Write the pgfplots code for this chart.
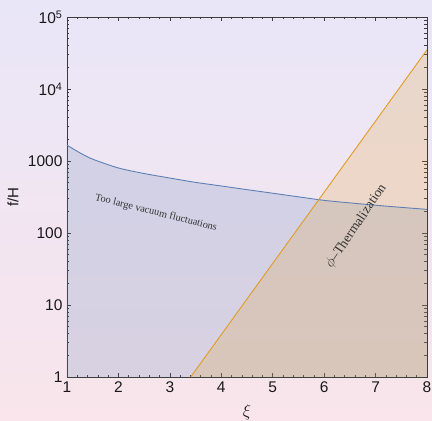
\documentclass[border=0pt]{standalone}
\usepackage{pgfplots}
\pgfplotsset{compat=1.18}
\usepackage{fontspec}
\setmainfont{Liberation Sans}
\newfontfamily\seriffont{Liberation Serif}
\newcommand{\annA}{\seriffont\fontsize{10.3pt}{12pt}\selectfont}
\newcommand{\annB}{\seriffont\fontsize{13.5pt}{15pt}\selectfont}
\definecolor{mblue}{RGB}{94,129,181}
\definecolor{morange}{RGB}{225,156,36}
\definecolor{bgtop}{RGB}{233,230,248}
\definecolor{bgbot}{RGB}{249,229,235}
\definecolor{framec}{RGB}{60,60,60}
\begin{document}
\begin{tikzpicture}[x=1pt,y=1pt]
\shade[top color=bgtop, bottom color=bgbot] (0,0) rectangle (432,421);
\useasboundingbox (0,0) rectangle (432,421);
\begin{axis}[
  at={(67pt,44pt)}, anchor=south west,
  scale only axis, width=360pt, height=360pt,
  xmin=1, xmax=8, ymin=1, ymax=100000,
  ymode=log,
  axis line style={framec, line width=0.8pt},
  xtick={1,2,3,4,5,6,7,8},
  xticklabels={1,2,3,4,5,6,7,8},
  minor x tick num=4,
  ytick={1,10,100,1000,10000,100000},
  yticklabels={1,10,100,1000,10\textsuperscript{4},10\textsuperscript{5}},
  minor ytick={2,3,4,5,6,7,8,9,20,30,40,50,60,70,80,90,200,300,400,500,600,700,800,900,2000,3000,4000,5000,6000,7000,8000,9000,20000,30000,40000,50000,60000,70000,80000,90000},
  xtick pos=both, ytick pos=both,
  xticklabel pos=bottom, yticklabel pos=left,
  tick align=inside,
  major tick length=4.5pt, minor tick length=2.5pt,
  tick style={framec, line width=0.6pt},
  xticklabel style={font=\fontsize{15.5pt}{18pt}\selectfont, text=black!90, yshift=-1pt},
  yticklabel style={font=\fontsize{15.5pt}{18pt}\selectfont, text=black!90, xshift=-1pt},
  xlabel={\fontsize{17pt}{19pt}\selectfont$\xi$},
  ylabel={\fontsize{15pt}{18pt}\selectfont f/H},
  xlabel style={at={(axis description cs:0.5,-0.098)}, anchor=center, text=black!90},
  ylabel style={at={(axis description cs:-0.150,0.5)}, anchor=center, text=black!90},
  clip=true,
]
\addplot[draw=none, fill=mblue, fill opacity=0.2] coordinates {
 (1,1) (1,1660) (1.25,1300) (1.5,1060) (2,800) (2.5,670) (3,580) (3.5,505) (4,450) (4.5,400) (5,357) (5.5,318) (6,284) (6.5,262) (7,243) (7.5,227) (8,213) (8,1)} -- cycle;
\addplot[draw=none, fill=morange, fill opacity=0.2] coordinates {
 (3.405,1) (8,35000) (8,1)} -- cycle;
\addplot[mblue, line width=0.9pt, smooth] coordinates {
 (1,1660) (1.25,1300) (1.5,1060) (2,800) (2.5,670) (3,580) (3.5,505) (4,450) (4.5,400) (5,357) (5.5,318) (6,284) (6.5,262) (7,243) (7.5,227) (8,213)};
\addplot[morange, line width=0.9pt] coordinates {(3.405,1) (8,35000)};
\node[rotate=-14, font=\annA, text=black!80] at (axis cs:2.73,190) {Too large vacuum fluctuations};
\node[rotate=56, font=\annB, text=black!80] at (axis cs:6.62,125) {$\phi$–Thermalization};
\end{axis}
\end{tikzpicture}
\end{document}
